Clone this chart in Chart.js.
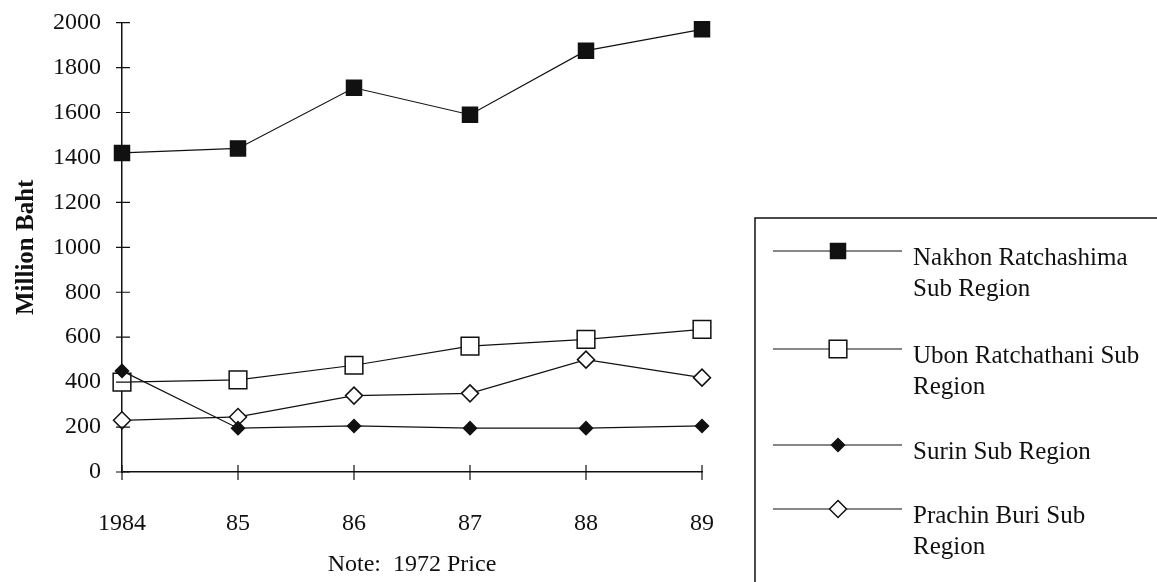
<!DOCTYPE html>
<html>
<head>
<meta charset="utf-8">
<script src="https://cdn.jsdelivr.net/npm/chart.js@4.4.1/dist/chart.umd.min.js"></script>
<style>
    html, body { margin: 0; padding: 0; background: #fff; }
    #wrap { width: 1157px; height: 582px; }
</style>
</head>
<body>
<div id="wrap"><canvas id="gdpChart" width="1157" height="582"></canvas></div>
<script>
const years = ['1984', '85', '86', '87', '88', '89'];
const yTicks = [0, 200, 400, 600, 800, 1000, 1200, 1400, 1600, 1800, 2000];

const nakhon = [1420, 1440, 1710, 1590, 1875, 1970];
const ubon = [400, 410, 475, 560, 590, 635];
const surin = [450, 195, 205, 195, 195, 205];
const prachin = [230, 245, 340, 350, 500, 420];

const legendNames = [
    ['Nakhon Ratchashima', 'Sub Region'],
    ['Ubon Ratchathani Sub', 'Region'],
    ['Surin Sub Region'],
    ['Prachin Buri Sub', 'Region']
];

const serif = '"Liberation Serif", "Times New Roman", serif';
const ink = '#111';

// one dataset per sub region, marker styles as in the scan
function makeSet(name, values, style, radius, fill, order) {
    return {
        label: name.join(' '),
        data: values,
        borderColor: ink,
        borderWidth: 1.2,
        pointStyle: style,
        pointRadius: radius,
        pointHoverRadius: radius,
        pointBackgroundColor: fill,
        pointBorderColor: ink,
        pointBorderWidth: 1.5,
        tension: 0,
        clip: false,
        order: order
    };
}

// ticks that cross the axis lines
const crossTicks = {
    id: 'crossTicks',
    afterDraw(chart) {
        const ctx = chart.ctx;
        const xs = chart.scales.x;
        const ys = chart.scales.y;
        ctx.save();
        ctx.strokeStyle = ink;
        ctx.lineWidth = 1.2;
        ctx.beginPath();
        ys.ticks.forEach((t, i) => {
            const py = ys.getPixelForTick(i);
            ctx.moveTo(xs.left - 6, py);
            ctx.lineTo(xs.left + 8, py);
        });
        xs.ticks.forEach((t, i) => {
            const px = xs.getPixelForTick(i);
            ctx.moveTo(px, ys.bottom - 7);
            ctx.lineTo(px, ys.bottom + 8);
        });
        ctx.stroke();
        ctx.restore();
    }
};

// boxed legend on the right, with wrapped names
const boxLegend = {
    id: 'boxLegend',
    afterDraw(chart) {
        const ctx = chart.ctx;
        const rowY = [251, 349, 445, 509];
        ctx.save();
        ctx.strokeStyle = ink;
        ctx.lineWidth = 1.5;
        ctx.beginPath();
        ctx.moveTo(755, 600);
        ctx.lineTo(755, 218);
        ctx.lineTo(1160, 218);
        ctx.stroke();

        chart.data.datasets.forEach((ds, i) => {
            const y = rowY[i];
            ctx.lineWidth = 1.2;
            ctx.strokeStyle = ink;
            ctx.beginPath();
            ctx.moveTo(773, y);
            ctx.lineTo(902, y);
            ctx.stroke();
            ctx.fillStyle = ds.pointBackgroundColor;
            ctx.lineWidth = ds.pointBorderWidth;
            Chart.helpers.drawPoint(ctx, {
                pointStyle: ds.pointStyle,
                radius: ds.pointRadius,
                rotation: 0,
                borderWidth: ds.pointBorderWidth
            }, 838, y);
            ctx.fillStyle = ink;
            ctx.font = '25px ' + serif;
            ctx.textBaseline = 'middle';
            legendNames[i].forEach((line, k) => {
                ctx.fillText(line, 913, y + 7 + k * 31);
            });
        });
        ctx.restore();
    }
};

const ctx = document.getElementById('gdpChart').getContext('2d');
new Chart(ctx, {
    type: 'line',
    data: {
        labels: years,
        datasets: [
            makeSet(legendNames[0], nakhon, 'rect', 10.6, ink, 0),
            makeSet(legendNames[1], ubon, 'rect', 12.5, '#fff', 2),
            makeSet(legendNames[2], surin, 'rectRot', 6.5, ink, 1),
            makeSet(legendNames[3], prachin, 'rectRot', 8.5, '#fff', 3)
        ]
    },
    options: {
        responsive: false,
        animation: false,
        layout: { padding: { top: 22, right: 455, left: 0, bottom: 0 } },
        plugins: {
            legend: { display: false },
            tooltip: { enabled: false }
        },
        scales: {
            x: {
                offset: false,
                grid: { display: false },
                border: { color: ink, width: 1.5 },
                ticks: {
                    color: ink,
                    padding: 29,
                    maxRotation: 0,
                    font: { family: serif, size: 24 }
                },
                title: {
                    display: true,
                    text: 'Note:  1972 Price',
                    color: ink,
                    padding: { top: 4, bottom: 3 },
                    font: { family: serif, size: 24 }
                },
                afterFit(scale) { scale.height = 110; }
            },
            y: {
                min: 0,
                max: 2000,
                afterBuildTicks(scale) {
                    scale.ticks = yTicks.map(v => ({ value: v }));
                },
                grid: { display: false },
                border: { color: ink, width: 1.5 },
                ticks: {
                    color: ink,
                    padding: 13,
                    font: { family: serif, size: 24, lineHeight: 0.8 },
                    callback: (v) => String(v)
                },
                title: {
                    display: true,
                    text: 'Million Baht',
                    color: ink,
                    padding: { top: 12, bottom: 4 },
                    font: { family: serif, size: 25, weight: 'bold' }
                },
                afterFit(scale) { scale.width = 122; }
            }
        }
    },
    plugins: [crossTicks, boxLegend]
});
</script>
</body>
</html>
